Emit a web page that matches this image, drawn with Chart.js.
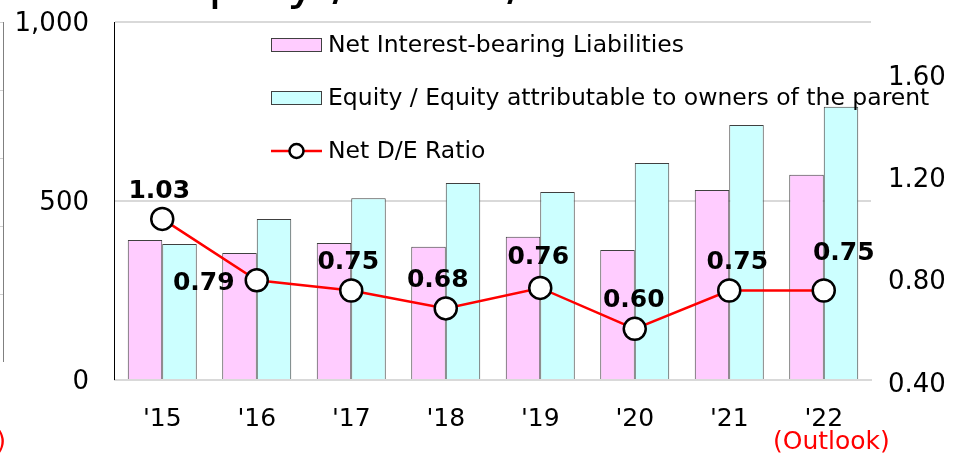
<!DOCTYPE html>
<html>
<head>
<meta charset="utf-8">
<title>Equity / Net D/E Ratio</title>
<script src="https://cdn.jsdelivr.net/npm/chart.js"></script>
<style>
  html, body { margin: 0; padding: 0; background: #fff; overflow: hidden; }
  #wrap { position: relative; width: 961px; height: 453px; overflow: hidden; }
  .note { position: absolute; font-family: "DejaVu Sans", Verdana, sans-serif; white-space: nowrap; }
  #edge { position: absolute; left: 0; top: 22px; width: 3px; height: 340px; border-right: 1px solid #808080;
          background: repeating-linear-gradient(to bottom, #d0d0d0 0, #d0d0d0 1px, transparent 1px, transparent 68px); }
</style>
</head>
<body>
<div id="wrap">
  <canvas id="deChart" width="961" height="453"></canvas>
  <div id="edge"></div>
  <div class="note" style="right:261px; top:-43px; font-size:50px; line-height:50px; color:#000;">Equity / Net D/E Ratio</div>
  <div class="note" style="right:955px; top:426px; font-size:25px; line-height:30px; color:#ff0000;">(FY)</div>
  <div class="note" style="left:773px; top:426px; font-size:25px; line-height:30px; color:#ff0000;">(Outlook)</div>
</div>
<script>
const years = ["'15", "'16", "'17", "'18", "'19", "'20", "'21", "'22"];
const netLiabilities = [391, 355, 383, 372, 400, 363, 531, 573];
const equity = [380, 450, 508, 550, 525, 606, 712, 763];
const deRatio = [1.03, 0.79, 0.75, 0.68, 0.76, 0.60, 0.75, 0.75];
const leftTicks = [0, 500, 1000];
const rightTicks = [0.4, 0.8, 1.2, 1.6];

const FONT = '"DejaVu Sans", Verdana, sans-serif';

// value labels for the ratio line, offset per point
const ratioLabels = {
  id: 'ratioLabels',
  afterDatasetsDraw(chart, args, opts) {
    const ctx = chart.ctx;
    const meta = chart.getDatasetMeta(opts.datasetIndex);
    ctx.save();
    ctx.font = 'bold 25px ' + FONT;
    ctx.fillStyle = '#000';
    ctx.textAlign = 'center';
    ctx.textBaseline = 'middle';
    meta.data.forEach((pt, i) => {
      const off = opts.offsets[i] || [0, -28];
      const v = chart.data.datasets[opts.datasetIndex].data[i];
      ctx.fillText(v.toFixed(2), pt.x + off[0], pt.y + off[1]);
    });
    ctx.restore();
  }
};

// legend drawn inside the plot area
const innerLegend = {
  id: 'innerLegend',
  afterDatasetsDraw(chart, args, opts) {
    const ctx = chart.ctx;
    ctx.save();
    ctx.font = opts.fontSize + 'px ' + FONT;
    ctx.textBaseline = 'middle';
    chart.data.datasets.forEach((ds, i) => {
      const y = opts.y + i * opts.rowGap;
      const x = opts.x;
      if (ds.type === 'line') {
        ctx.strokeStyle = ds.borderColor;
        ctx.lineWidth = 2.5;
        ctx.beginPath();
        ctx.moveTo(x, y);
        ctx.lineTo(x + opts.boxWidth, y);
        ctx.stroke();
        ctx.beginPath();
        ctx.arc(x + opts.boxWidth / 2, y, 7, 0, Math.PI * 2);
        ctx.fillStyle = '#fff';
        ctx.fill();
        ctx.strokeStyle = '#000';
        ctx.lineWidth = 2.5;
        ctx.stroke();
      } else {
        ctx.fillStyle = ds.backgroundColor;
        ctx.fillRect(x, y - 7, opts.boxWidth, 14);
        ctx.strokeStyle = ds.borderColor;
        ctx.lineWidth = 1;
        ctx.strokeRect(x + 0.5, y - 6.5, opts.boxWidth - 1, 13);
      }
      ctx.fillStyle = '#000';
      ctx.fillText(ds.label, x + opts.boxWidth + 6, y + 1);
    });
    ctx.restore();
  }
};

// left value axis line
const leftAxisLine = {
  id: 'leftAxisLine',
  beforeDatasetsDraw(chart) {
    const a = chart.chartArea, ctx = chart.ctx;
    ctx.save();
    ctx.strokeStyle = '#000';
    ctx.lineWidth = 1;
    ctx.beginPath();
    ctx.moveTo(a.left - 0.5, a.top);
    ctx.lineTo(a.left - 0.5, a.bottom);
    ctx.stroke();
    ctx.restore();
  }
};

new Chart(document.getElementById('deChart').getContext('2d'), {
  data: {
    labels: years,
    datasets: [
      {
        type: 'bar',
        label: 'Net Interest-bearing Liabilities',
        data: netLiabilities,
        backgroundColor: '#ffccff',
        borderColor: '#404040',
        borderWidth: 1,
        yAxisID: 'y',
        order: 1,
        categoryPercentage: 0.73,
        barPercentage: 1.0
      },
      {
        type: 'bar',
        label: 'Equity / Equity attributable to owners of the parent',
        data: equity,
        backgroundColor: '#ccffff',
        borderColor: '#404040',
        borderWidth: 1,
        yAxisID: 'y',
        order: 1,
        categoryPercentage: 0.73,
        barPercentage: 1.0
      },
      {
        type: 'line',
        label: 'Net D/E Ratio',
        data: deRatio,
        borderColor: '#ff0000',
        borderWidth: 2.5,
        pointRadius: 11,
        pointBackgroundColor: '#ffffff',
        pointBorderColor: '#000000',
        pointBorderWidth: 2.5,
        tension: 0,
        yAxisID: 'y2',
        order: 0
      }
    ]
  },
  options: {
    responsive: false,
    animation: false,
    layout: { padding: { top: 22, left: 0, right: 0, bottom: 0 } },
    plugins: {
      legend: { display: false },
      tooltip: { enabled: false },
      ratioLabels: {
        datasetIndex: 2,
        offsets: [[-3, -27], [-53, 3], [-3, -28], [-8, -28], [-2, -30], [-1, -28], [8, -28], [20, -37]]
      },
      innerLegend: { x: 271, y: 45, rowGap: 53, boxWidth: 51, fontSize: 23.5 }
    },
    scales: {
      x: {
        grid: { display: false, drawTicks: false },
        border: { display: true, color: '#d9d9d9', width: 2 },
        ticks: { font: { family: FONT, size: 25 }, color: '#000', padding: 24 },
        afterFit(s) { s.height = 73; s.paddingLeft = 0; s.paddingRight = 0; }
      },
      y: {
        position: 'left',
        min: 0,
        max: 1000,
        afterBuildTicks(s) { s.ticks = leftTicks.map(v => ({ value: v })); },
        grid: { color: '#d9d9d9', lineWidth: 2, drawTicks: false },
        border: { display: false },
        ticks: {
          font: { family: FONT, size: 26 },
          color: '#000',
          padding: 26,
          labelOffset: 2,
          callback: v => v.toLocaleString('en-US')
        },
        afterFit(s) { s.width = 115; s.paddingTop = 0; s.paddingBottom = 0; }
      },
      y2: {
        position: 'right',
        min: 0.4,
        max: 1.8,
        afterBuildTicks(s) { s.ticks = rightTicks.map(v => ({ value: v })); },
        grid: { display: false, drawTicks: false },
        border: { display: false },
        ticks: {
          font: { family: FONT, size: 26 },
          color: '#000',
          padding: 17,
          labelOffset: 5,
          callback: v => Number(v).toFixed(2)
        },
        afterFit(s) { s.width = 90; s.paddingTop = 0; s.paddingBottom = 0; }
      }
    }
  },
  plugins: [leftAxisLine, ratioLabels, innerLegend]
});
</script>
</body>
</html>
